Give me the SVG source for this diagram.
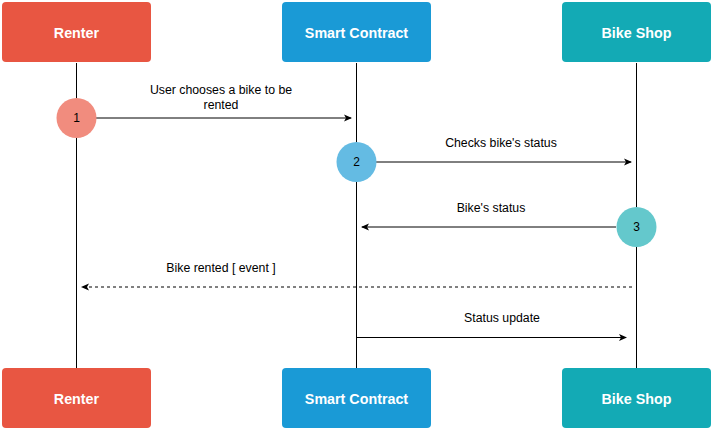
<svg xmlns="http://www.w3.org/2000/svg" width="713" height="429" viewBox="0 0 713 429">
<defs>
<marker id="ah" markerWidth="10" markerHeight="10" refX="8" refY="5" orient="auto" markerUnits="userSpaceOnUse">
<path d="M1,1.5 L9,5 L1,8.5 L3,5 Z" fill="#000"/>
</marker>
</defs>
<style>
.box{stroke:none}
.lbl{font-family:"Liberation Sans",Arial,sans-serif;font-size:14.3px;font-weight:bold;fill:#fff;text-anchor:middle;dominant-baseline:central}
.life{stroke:#000;stroke-width:1;fill:none}
.msg{stroke:#000;stroke-width:1;fill:none;marker-end:url(#ah)}
.txt{font-family:"Liberation Sans",Arial,sans-serif;font-size:12.3px;fill:#000;text-anchor:middle}
.num{font-family:"Liberation Sans",Arial,sans-serif;font-size:12px;fill:#000;text-anchor:middle;dominant-baseline:central}
</style>
<rect width="713" height="429" fill="#fff"/>
<g id="lifelines">
<line class="life" x1="76.5" y1="63" x2="76.5" y2="368"/>
<line class="life" x1="356.5" y1="63" x2="356.5" y2="368"/>
<line class="life" x1="636.5" y1="63" x2="636.5" y2="368"/>
</g>
<g id="connectors">
<line class="msg" x1="96" y1="118" x2="351" y2="118"/>
<line class="msg" x1="376" y1="162" x2="631" y2="162"/>
<line class="msg" x1="616" y1="227" x2="362" y2="227"/>
<line class="msg" x1="632" y1="287" x2="82" y2="287" stroke-dasharray="3,3"/>
<line class="msg" x1="357" y1="337.5" x2="626" y2="337.5"/>
<text class="txt" x="221" y="94">User chooses a bike to be</text>
<text class="txt" x="221" y="109">rented</text>
<text class="txt" x="501" y="147">Checks bike's status</text>
<text class="txt" x="491" y="212">Bike's status</text>
<text class="txt" x="221" y="272">Bike rented [ event ]</text>
<text class="txt" x="502" y="322">Status update</text>
</g>
<g id="renter-top"><rect class="box" x="2" y="2" width="149" height="60" rx="4" fill="#E85642"/><text class="lbl" x="76.5" y="33">Renter</text></g>
<g id="contract-top"><rect class="box" x="282" y="2" width="149" height="60" rx="4" fill="#1A9AD6"/><text class="lbl" x="356.5" y="33">Smart Contract</text></g>
<g id="shop-top"><rect class="box" x="562" y="2" width="149" height="60" rx="4" fill="#13AAB5"/><text class="lbl" x="636.5" y="33">Bike Shop</text></g>
<g id="renter-bottom"><rect class="box" x="2" y="368" width="149" height="60" rx="4" fill="#E85642"/><text class="lbl" x="76.5" y="399">Renter</text></g>
<g id="contract-bottom"><rect class="box" x="282" y="368" width="149" height="60" rx="4" fill="#1A9AD6"/><text class="lbl" x="356.5" y="399">Smart Contract</text></g>
<g id="shop-bottom"><rect class="box" x="562" y="368" width="149" height="60" rx="4" fill="#13AAB5"/><text class="lbl" x="636.5" y="399">Bike Shop</text></g>
<g id="step1"><circle cx="76.5" cy="118" r="20" fill="#F18C7E"/><text class="num" x="76.5" y="118">1</text></g>
<g id="step2"><circle cx="356.5" cy="162" r="20" fill="#64BBE3"/><text class="num" x="356.5" y="162">2</text></g>
<g id="step3"><circle cx="636.5" cy="227" r="20" fill="#64C8CC"/><text class="num" x="636.5" y="227">3</text></g>
</svg>
